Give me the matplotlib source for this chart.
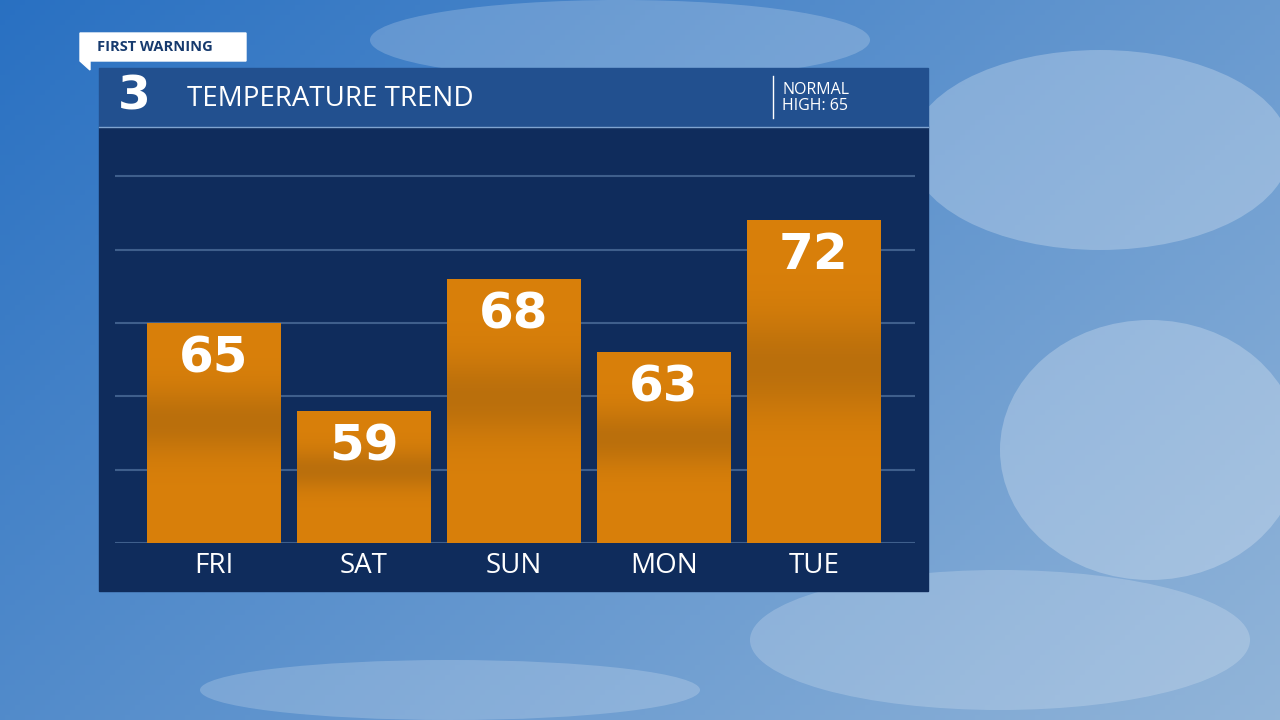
import numpy as np
import matplotlib
matplotlib.use('Agg')
import matplotlib.pyplot as plt
from matplotlib.patches import Rectangle, Polygon, Ellipse

days = ['FRI', 'SAT', 'SUN', 'MON', 'TUE']
highs = [65, 59, 68, 63, 72]
grid_levels = [50, 55, 60, 65, 70, 75]

W, H = 1280, 720
fig = plt.figure(figsize=(12.8, 7.2), dpi=100)

# ---- sky background ----
bg = fig.add_axes([0, 0, 1, 1])
bg.set_xlim(0, W); bg.set_ylim(H, 0); bg.axis('off')
xx = np.linspace(0, 1, 256)
yy = np.linspace(0, 1, 144)
X, Y = np.meshgrid(xx, yy)
c1 = np.array([0.16, 0.44, 0.76])
c2 = np.array([0.62, 0.74, 0.86])
t = np.clip(0.55 * X + 0.35 * Y, 0, 1)[..., None]
sky = c1 * (1 - t) + c2 * t
bg.imshow(sky, extent=[0, W, H, 0], aspect='auto', zorder=0)
for (cx, cy, w, h, a) in [(1100, 150, 380, 200, 0.25), (1150, 450, 300, 260, 0.25),
                          (620, 40, 500, 80, 0.2), (1000, 640, 500, 140, 0.2),
                          (450, 690, 500, 60, 0.2)]:
    bg.add_patch(Ellipse((cx, cy), w, h, color='white', alpha=a, lw=0, zorder=1))

# ---- panel ----
bg.add_patch(Rectangle((99, 126), 829, 465, color='#0f2c5c', zorder=2))
bg.add_patch(Rectangle((99, 68), 829, 58, color='#22508f', zorder=3))
bg.plot([99, 928], [126.5, 126.5], color='#7fa3d0', lw=1, zorder=4)
bg.plot([773, 773], [76, 118], color='white', lw=1, zorder=4)
bg.text(118, 97, '3', color='white', fontsize=34, fontweight='heavy',
        family='DejaVu Sans', va='center', ha='left', zorder=5)
bg.text(187, 99, 'TEMPERATURE TREND', color='white', fontsize=20,
        family='Open Sans', va='center', ha='left', zorder=5)
bg.text(782, 98, 'NORMAL\nHIGH: 65', color='white', fontsize=11.5,
        family='Open Sans', va='center', ha='left', linespacing=1.0, zorder=5)

# "FIRST WARNING" tag
bg.add_patch(Polygon([(80, 33), (246, 33), (246, 61), (90, 61), (90, 70), (80, 61)],
                     color='white', zorder=5))
bg.text(97, 47, 'FIRST WARNING', color='#163a6e', fontsize=10.5, fontweight='bold',
        family='Open Sans', va='center', ha='left', zorder=6)

# ---- bars ----
ymin, ymax = 50, 50 + (543 - 140) / 14.67
ax = fig.add_axes([115 / W, 1 - 543 / H, 800 / W, (543 - 140) / H])
ax.set_xlim(-0.66, 4.675)
ax.set_ylim(ymin, ymax)
ax.patch.set_alpha(0)
for s in ax.spines.values():
    s.set_visible(False)
ax.set_xticks([]); ax.set_yticks([])
for g in grid_levels:
    ax.axhline(g, color='#3f5f8c', lw=1.5, zorder=1)

grad_y = np.linspace(0, 1, 200)
dark = 0.8 * np.exp(-((grad_y - 0.45) / 0.15) ** 2)
orange = np.array([0.85, 0.50, 0.04])
band = np.array([0.70, 0.42, 0.05])
grad = orange * (1 - dark[:, None]) + band * dark[:, None]
bars = ax.bar(range(len(days)), [h - ymin for h in highs], bottom=ymin, width=0.887,
              color='#d5800c', zorder=2)
for i, (b, v) in enumerate(zip(bars, highs)):
    im = ax.imshow(grad[:, None, :], extent=[i - 0.45, i + 0.45, ymin, v],
                   aspect='auto', origin='upper', zorder=3)
    im.set_clip_path(b)
    ax.text(i, v - 2.4, str(v), color='white', fontsize=36, fontweight='bold',
            family='DejaVu Sans', ha='center', va='center', zorder=4)
    ax.text(i, ymin - 1.6, days[i], color='white', fontsize=20, family='Open Sans',
            ha='center', va='center', clip_on=False, zorder=4)

fig.savefig('out.png', dpi=100)
